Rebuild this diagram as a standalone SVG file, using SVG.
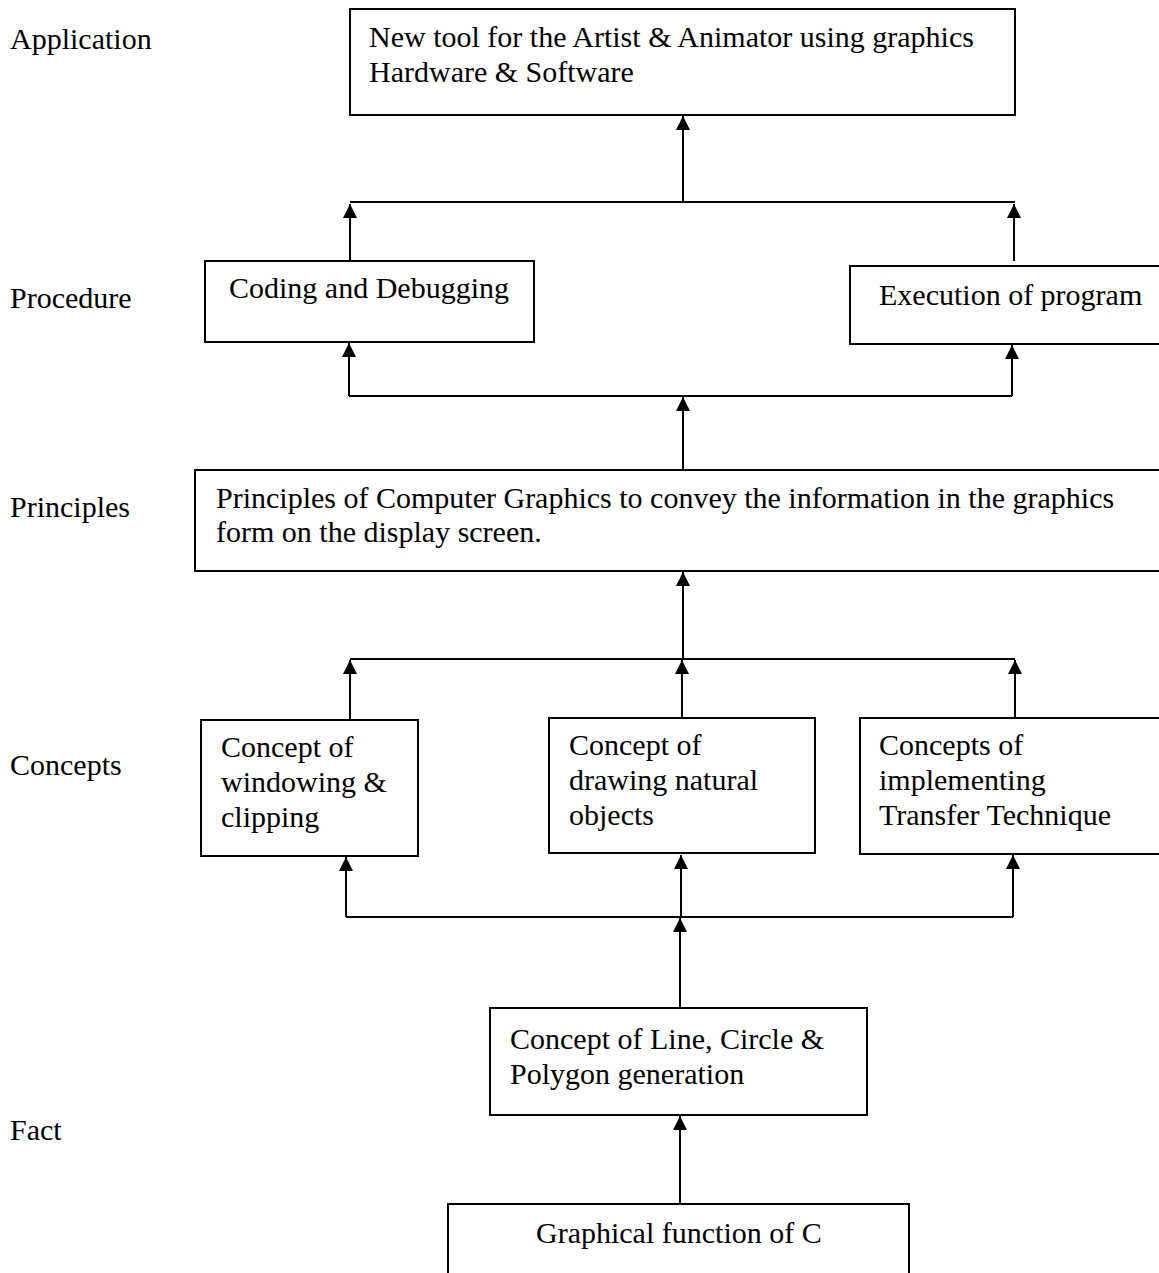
<svg xmlns="http://www.w3.org/2000/svg" width="1159" height="1273" viewBox="0 0 1159 1273">
<style>
.box{fill:#fff;stroke:#000;stroke-width:2}
.t{font-family:"Liberation Serif","Times New Roman",serif;font-size:30px;fill:#000}
.c{fill:none;stroke:#000;stroke-width:2}
.a{fill:none;stroke:#000;stroke-width:2;marker-end:url(#ah)}
</style>
<defs>
<marker id="ah" markerWidth="14" markerHeight="14" viewBox="0 0 14 14" refX="14" refY="7" orient="auto" markerUnits="userSpaceOnUse">
<path d="M0,0 L14,7 L0,14 Z" fill="#000"/>
</marker>
</defs>
<rect width="1159" height="1273" fill="#fff"/>
<g id="labels">
<text class="t" x="10" y="49">Application</text>
<text class="t" x="10" y="308">Procedure</text>
<text class="t" x="10" y="517">Principles</text>
<text class="t" x="10" y="775">Concepts</text>
<text class="t" x="10" y="1140">Fact</text>
</g>
<g id="connectors">
<path class="a" d="M683,202 V116"/>
<path class="c" d="M350,202 H1015"/>
<path class="a" d="M350,261 V204"/>
<path class="a" d="M1014,261 V204"/>
<path class="c" d="M349,396 H1012"/>
<path class="a" d="M349,396 V343"/>
<path class="a" d="M1012,396 V345"/>
<path class="a" d="M683,470 V397"/>
<path class="a" d="M683,659 V572"/>
<path class="c" d="M350,659 H1015"/>
<path class="a" d="M350,720 V660"/>
<path class="a" d="M682,718 V660"/>
<path class="a" d="M1015,718 V660"/>
<path class="c" d="M346,917 H1013"/>
<path class="a" d="M346,917 V857"/>
<path class="a" d="M681,917 V855"/>
<path class="a" d="M1013,917 V855"/>
<path class="a" d="M680,1008 V918"/>
<path class="a" d="M680,1204 V1116"/>
</g>
<g id="n-application">
<rect class="box" x="350" y="9" width="665" height="106"/>
<text class="t" x="369" y="47">New tool for the Artist &amp; Animator using graphics</text>
<text class="t" x="369" y="82">Hardware &amp; Software</text>
</g>
<g id="n-coding">
<rect class="box" x="205" y="261" width="329" height="81"/>
<text class="t" x="229" y="298">Coding and Debugging</text>
</g>
<g id="n-execution">
<rect class="box" x="850" y="266" width="312" height="78"/>
<text class="t" x="879" y="305">Execution of program</text>
</g>
<g id="n-principles">
<rect class="box" x="195" y="470" width="967" height="101"/>
<text class="t" x="216" y="508">Principles of Computer Graphics to convey the information in the graphics</text>
<text class="t" x="216" y="542">form on the display screen.</text>
</g>
<g id="n-windowing">
<rect class="box" x="201" y="720" width="217" height="136"/>
<text class="t" x="221" y="757">Concept of</text>
<text class="t" x="221" y="792">windowing &amp;</text>
<text class="t" x="221" y="827">clipping</text>
</g>
<g id="n-drawing">
<rect class="box" x="549" y="718" width="266" height="135"/>
<text class="t" x="569" y="755">Concept of</text>
<text class="t" x="569" y="790">drawing natural</text>
<text class="t" x="569" y="825">objects</text>
</g>
<g id="n-transfer">
<rect class="box" x="860" y="718" width="302" height="136"/>
<text class="t" x="879" y="755">Concepts of</text>
<text class="t" x="879" y="790">implementing</text>
<text class="t" x="879" y="825">Transfer Technique</text>
</g>
<g id="n-line">
<rect class="box" x="490" y="1008" width="377" height="107"/>
<text class="t" x="510" y="1049">Concept of Line, Circle &amp;</text>
<text class="t" x="510" y="1084">Polygon generation</text>
</g>
<g id="n-graphical">
<rect class="box" x="448" y="1204" width="461" height="80"/>
<text class="t" x="536" y="1243">Graphical function of C</text>
</g>
</svg>
